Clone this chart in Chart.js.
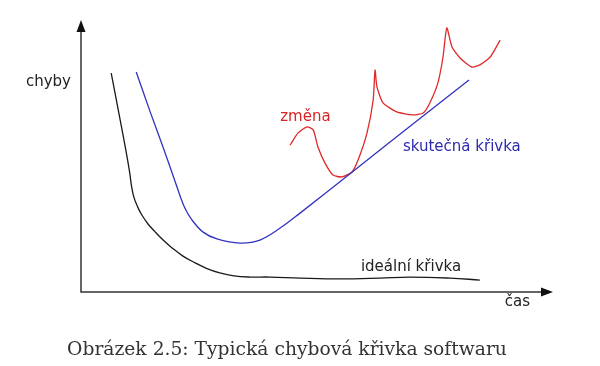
<!DOCTYPE html>
<html>
<head>
<meta charset="utf-8">
<script src="https://cdn.jsdelivr.net/npm/chart.js@4"></script>
<style>
  body { margin: 0; background: #fff; }
  canvas { display: block; }
</style>
</head>
<body>
<canvas id="myChart" width="600" height="366"></canvas>
<script>
// Curves in axis units (time 0..100, errors 0..100)
const idealX = [6.4, 7.9, 9.5, 10.3, 10.7, 11.2, 12.0, 12.9, 14.2, 15.7, 17.4, 19.3, 21.6, 24.2, 26.7, 29.4, 32.4, 35.8, 40.0, 46.4, 54.9, 63.3, 69.7, 78.2, 84.5];
const idealY = [80.5, 66.9, 52.2, 44.1, 39.0, 34.9, 31.3, 28.3, 25.0, 22.1, 19.1, 16.2, 13.2, 10.7, 8.6, 7.0, 5.9, 5.5, 5.5, 5.1, 4.8, 5.1, 5.5, 5.1, 4.4];

const realX = [11.7, 14.6, 17.6, 19.9, 21.0, 22.0, 23.5, 25.8, 28.8, 33.7, 37.9, 42.2, 46.4, 57.0, 71.8, 82.2];
const realY = [80.9, 66.5, 52.2, 40.8, 35.3, 30.9, 26.5, 22.1, 19.5, 18.0, 19.1, 23.5, 29.0, 43.5, 63.8, 77.9];

const changeX = [44.3, 46.0, 47.9, 49.2, 50.2, 51.7, 53.4, 55.3, 57.4, 58.7, 60.6, 61.9, 62.3, 62.7, 64.0, 66.9, 70.3, 72.5, 73.9, 75.6, 76.7, 77.5, 78.6, 80.3, 82.8, 84.5, 86.7, 88.8];
const changeY = [54.0, 58.5, 60.7, 59.6, 53.3, 47.4, 43.0, 42.3, 44.1, 48.5, 58.5, 70.6, 81.6, 75.4, 69.5, 66.2, 65.1, 65.8, 69.5, 76.8, 86.4, 97.1, 90.1, 86.0, 82.7, 83.5, 86.4, 92.6];

const yTitle = "chyby";
const xTitle = "čas";
const curveLabels = ["ideální křivka", "skutečná křivka", "změna"];
const caption = "Obrázek 2.5: Typická chybová křivka softwaru";

const toPoints = (xs, ys) => xs.map((x, i) => ({ x: x, y: ys[i] }));

const sansFont = "15px 'DejaVu Sans'";

// Axes with arrows, labels and the caption
const sketchPlugin = {
  id: "sketch",
  afterDraw(chart) {
    const ctx = chart.ctx;
    const { left, right, top, bottom } = chart.chartArea;
    const xs = chart.scales.x;
    const ys = chart.scales.y;

    ctx.save();
    ctx.strokeStyle = "#333";
    ctx.fillStyle = "#111";
    ctx.lineWidth = 1.5;
    ctx.beginPath();
    ctx.moveTo(left, top + 8);
    ctx.lineTo(left, bottom);
    ctx.lineTo(right - 8, bottom);
    ctx.stroke();

    // arrow heads
    ctx.beginPath();
    ctx.moveTo(left, top);
    ctx.lineTo(left - 4.5, top + 12);
    ctx.lineTo(left + 4.5, top + 12);
    ctx.closePath();
    ctx.fill();
    ctx.beginPath();
    ctx.moveTo(right, bottom);
    ctx.lineTo(right - 12, bottom - 4.5);
    ctx.lineTo(right - 12, bottom + 4.5);
    ctx.closePath();
    ctx.fill();

    ctx.font = sansFont;
    ctx.textBaseline = "middle";
    ctx.fillStyle = "#222";
    ctx.textAlign = "right";
    ctx.fillText(yTitle, left - 10, ys.getPixelForValue(77.2));
    ctx.textAlign = "left";
    ctx.fillText(xTitle, xs.getPixelForValue(89.8), bottom + 10);

    ctx.fillText(curveLabels[0], xs.getPixelForValue(59.3), ys.getPixelForValue(9.2));
    ctx.fillStyle = "#2b2bb0";
    ctx.fillText(curveLabels[1], xs.getPixelForValue(68.2), ys.getPixelForValue(53.3));
    ctx.fillStyle = "#d82424";
    ctx.fillText(curveLabels[2], xs.getPixelForValue(42.2), ys.getPixelForValue(64.3));

    ctx.fillStyle = "#333";
    ctx.font = "18.7px 'DejaVu Serif'";
    ctx.textAlign = "center";
    ctx.fillText(caption, 287, 350);
    ctx.restore();
  },
};

const ctx = document.getElementById("myChart").getContext("2d");

const data = {
  datasets: [
    {
      label: curveLabels[0],
      data: toPoints(idealX, idealY),
      borderColor: "#1a1a1a",
      borderWidth: 1.3,
      tension: 0.4,
    },
    {
      label: curveLabels[1],
      data: toPoints(realX, realY),
      borderColor: "#3232c0",
      borderWidth: 1.3,
      tension: 0.35,
    },
    {
      label: curveLabels[2],
      data: toPoints(changeX, changeY),
      borderColor: "#e02828",
      borderWidth: 1.3,
      tension: 0.2,
    },
  ],
};

const config = {
  type: "line",
  data: data,
  options: {
    responsive: false,
    animation: false,
    layout: { padding: { left: 81, right: 47, top: 20, bottom: 74 } },
    elements: { point: { radius: 0 } },
    plugins: {
      legend: { display: false },
      tooltip: { enabled: false },
    },
    scales: {
      x: { type: "linear", min: 0, max: 100, display: false },
      y: { type: "linear", min: 0, max: 100, display: false },
    },
  },
  plugins: [sketchPlugin],
};

new Chart(ctx, config);
</script>
</body>
</html>
